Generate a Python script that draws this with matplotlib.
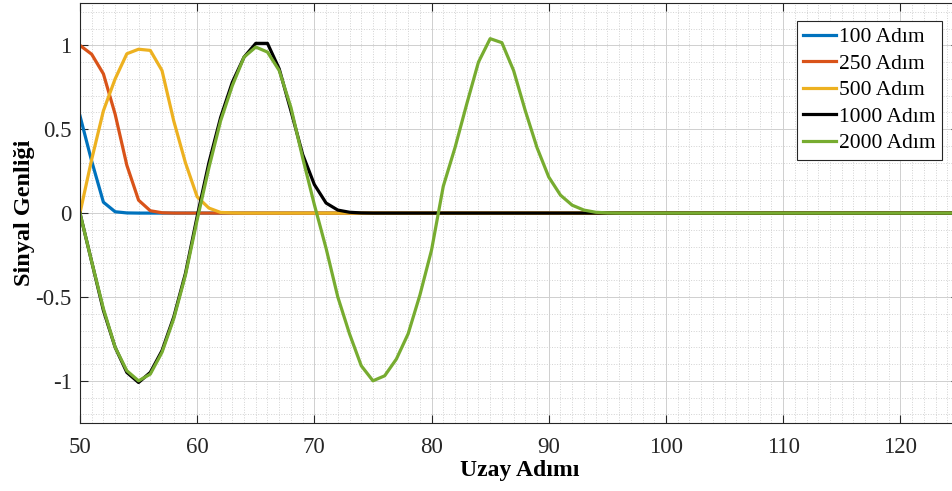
import numpy as np
import matplotlib
matplotlib.use("Agg")
import matplotlib.pyplot as plt
from matplotlib.ticker import MultipleLocator, FixedLocator

plt.rcParams['font.family'] = ['Liberation Serif', 'DejaVu Serif']

# space steps 50..125
x = list(range(50, 126))

adim_100 = [0.58, 0.31, 0.065, 0.008, 0.001] + [0.0] * 71
adim_250 = [1.0, 0.947, 0.83, 0.59, 0.285, 0.077, 0.014, 0.002] + [0.0] * 68
adim_500 = [0.0, 0.32, 0.61, 0.80, 0.95, 0.977, 0.97, 0.85, 0.55, 0.30,
            0.097, 0.03, 0.004, 0.001] + [0.0] * 62
adim_1000 = [0.0, -0.29, -0.58, -0.80, -0.95, -1.01, -0.95, -0.82, -0.62, -0.36,
             -0.02, 0.30, 0.57, 0.78, 0.93, 1.012, 1.012, 0.86, 0.61, 0.35,
             0.17, 0.06, 0.018, 0.005, 0.001] + [0.0] * 51
adim_2000 = [0.0, -0.29, -0.57, -0.80, -0.94, -1.0, -0.96, -0.83, -0.63, -0.37,
             -0.04, 0.27, 0.55, 0.76, 0.93, 0.99, 0.96, 0.85, 0.63, 0.33,
             0.05, -0.21, -0.50, -0.72, -0.91, -1.0, -0.97, -0.87, -0.72, -0.49,
             -0.22, 0.16, 0.39, 0.65, 0.90, 1.04, 1.016, 0.85, 0.61, 0.39,
             0.215, 0.107, 0.047, 0.018, 0.005, 0.001] + [0.0] * 30

series = [adim_100, adim_250, adim_500, adim_1000, adim_2000]
labels = ["100 Adım", "250 Adım", "500 Adım", "1000 Adım", "2000 Adım"]
colors = ["#0072BD", "#D95319", "#EDB120", "#000000", "#77AC30"]

fig = plt.figure(figsize=(9.52, 4.91), dpi=100)
ax = fig.add_axes([0.084, 0.139, 0.9233, 0.854])

for s, lab, c in zip(series, labels, colors):
    ax.plot(x, s, color=c, lw=2.3, label=lab)

ax.set_xlim(50, 125)
ax.set_ylim(-1.25, 1.25)
ax.xaxis.set_major_locator(MultipleLocator(10))
ax.xaxis.set_minor_locator(MultipleLocator(1))
ax.yaxis.set_major_locator(FixedLocator([-1, -0.5, 0, 0.5, 1]))
ax.yaxis.set_minor_locator(MultipleLocator(0.1))
ax.set_yticklabels(["-1", "-0.5", "0", "0.5", "1"])

ax.grid(which='major', color='#cfcfcf', lw=0.7, ls='-')
ax.grid(which='minor', color='#d2d2d2', lw=0.7, ls=':')
ax.set_axisbelow(True)

ax.tick_params(which='major', direction='in', length=6, width=0.8, top=True, right=True,
               labelsize=16.5, colors='#262626', pad=6)
ax.tick_params(axis='x', which='major', pad=10)
ax.tick_params(which='minor', length=0)
for sp in ax.spines.values():
    sp.set_color('#262626')
    sp.set_linewidth(0.8)

ax.set_xlabel("Uzay Adımı", fontsize=17, fontweight='bold', labelpad=2)
ax.set_ylabel("Sinyal Genliği", fontsize=17.5, fontweight='bold', labelpad=0)

leg = ax.legend(loc='upper right', fontsize=15.5, frameon=True, fancybox=False,
                framealpha=1, edgecolor='#262626', handlelength=1.55,
                handletextpad=0.1, labelspacing=0.3, borderpad=0.3, borderaxespad=0.8)
leg.get_frame().set_linewidth(0.8)

fig.savefig("out.png", dpi=100)
